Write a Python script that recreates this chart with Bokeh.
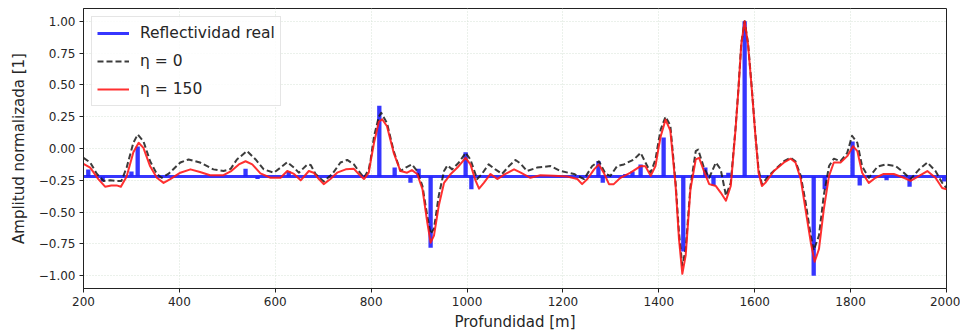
from bokeh.plotting import figure
from bokeh.models import Range1d, FixedTicker, CustomJSTickFormatter, Legend, LegendItem
from bokeh.embed import file_html
from bokeh.resources import INLINE

# ---------------- data ----------------
x_ticks = [200, 400, 600, 800, 1000, 1200, 1400, 1600, 1800, 2000]
y_ticks = [-1.0, -0.75, -0.5, -0.25, 0.0, 0.25, 0.5, 0.75, 1.0]

# true reflectivity: baseline level and spikes
refl_base = -0.22
refl_line_x = [200, 2000]
refl_line_y = [refl_base, refl_base]
spike_depth = [210, 240, 300, 313, 538, 563, 628, 817, 849, 882, 899, 924, 997, 1009,
               1274, 1283, 1330, 1345, 1362, 1410, 1451, 1497, 1514, 1545, 1579, 1723,
               1746, 1804, 1819, 1875, 1923, 1995]
spike_value = [-0.165, -0.26, -0.18, 0.016, -0.16, -0.24, -0.18, 0.336, -0.15, -0.27, -0.16,
               -0.78, -0.03, -0.32, -0.10, -0.27, -0.20, -0.18, -0.125, 0.086, -0.81, -0.15,
               -0.29, -0.19, 1.00, -1.00, -0.32, 0.055, -0.29, -0.25, -0.30, -0.26]

# eta = 0 (dashed black)
eta0_x = [200, 214, 228, 242, 256, 269, 279, 290, 304, 313, 325, 339, 353, 363, 377, 402, 419,
          443, 471, 492, 507, 520, 541, 559, 576, 597, 611, 625, 639, 649, 667, 674, 684, 701,
          719, 736, 750, 764, 774, 785, 795, 799, 806, 816, 821, 833, 847, 861, 872, 885, 896,
          907, 917, 924, 931, 941, 952, 959, 969, 983, 997, 1007, 1021, 1031, 1045, 1059, 1073,
          1087, 1101, 1112, 1125, 1146, 1174, 1195, 1223, 1244, 1261, 1275, 1289, 1299, 1313,
          1327, 1348, 1362, 1372, 1383, 1393, 1400, 1404, 1414, 1424, 1435, 1442, 1449, 1456,
          1466, 1477, 1482, 1494, 1505, 1519, 1529, 1540, 1550, 1560, 1566, 1572, 1579, 1586,
          1594, 1601, 1608, 1615, 1629, 1647, 1661, 1675, 1685, 1696, 1706, 1717, 1723, 1734,
          1744, 1755, 1765, 1779, 1793, 1803, 1814, 1824, 1838, 1856, 1873, 1894, 1911, 1925,
          1943, 1960, 1977, 1991, 2000]
eta0_y = [-0.073, -0.11, -0.20, -0.255, -0.25, -0.255, -0.255, -0.15, 0.045, 0.11, 0.057, -0.10,
          -0.20, -0.23, -0.20, -0.11, -0.086, -0.11, -0.164, -0.177, -0.16, -0.086, -0.02, -0.086,
          -0.164, -0.19, -0.15, -0.107, -0.15, -0.19, -0.125, -0.13, -0.20, -0.26, -0.20, -0.11,
          -0.09, -0.125, -0.177, -0.23, -0.164, -0.086, 0.096, 0.25, 0.28, 0.20, -0.02, -0.177,
          -0.15, -0.125, -0.177, -0.295, -0.53, -0.67, -0.63, -0.37, -0.177, -0.133, -0.164,
          -0.11, -0.034, -0.086, -0.24, -0.20, -0.125, -0.164, -0.20, -0.14, -0.09, -0.12,
          -0.177, -0.15, -0.138, -0.177, -0.20, -0.24, -0.138, -0.10, -0.20, -0.215, -0.138,
          -0.125, -0.086, -0.034, -0.11, -0.19, -0.086, 0.07, 0.15, 0.25, 0.18, -0.27, -0.66,
          -0.92, -0.79, -0.295, -0.02, -0.008, -0.15, -0.23, -0.11, -0.164, -0.37, -0.27, 0.16,
          0.47, 0.83, 1.0, 0.83, 0.47, 0.13, -0.164, -0.28, -0.215, -0.15, -0.10, -0.073, -0.10,
          -0.215, -0.42, -0.685, -0.80, -0.685, -0.37, -0.138, -0.08, -0.10, -0.034, 0.10,
          0.045, -0.14, -0.23, -0.143, -0.125, -0.138, -0.19, -0.24, -0.164, -0.11, -0.177,
          -0.27, -0.31]

# eta = 150 (red)
eta150_x = [200, 214, 231, 245, 258, 269, 278, 290, 304, 315, 325, 339, 353, 367, 381, 402, 423,
            443, 464, 492, 507, 524, 538, 552, 569, 590, 611, 625, 639, 653, 670, 680, 691, 701,
            715, 729, 747, 764, 774, 785, 795, 799, 806, 816, 823, 833, 847, 861, 875, 885, 896,
            907, 917, 924, 931, 941, 952, 966, 980, 997, 1007, 1018, 1025, 1035, 1049, 1063, 1080,
            1098, 1112, 1132, 1153, 1181, 1209, 1230, 1240, 1251, 1265, 1275, 1285, 1296, 1306,
            1320, 1341, 1362, 1372, 1383, 1393, 1400, 1404, 1414, 1424, 1435, 1442, 1449, 1456,
            1466, 1477, 1484, 1494, 1505, 1519, 1529, 1540, 1550, 1560, 1566, 1572, 1579, 1586,
            1594, 1601, 1608, 1615, 1622, 1640, 1661, 1675, 1685, 1696, 1706, 1717, 1725, 1734,
            1744, 1755, 1765, 1779, 1793, 1805, 1814, 1824, 1838, 1852, 1869, 1890, 1911, 1925,
            1943, 1960, 1977, 1991, 2000]
eta150_y = [-0.12, -0.15, -0.24, -0.30, -0.29, -0.29, -0.30, -0.22, -0.03, 0.045, 0.005, -0.14,
            -0.23, -0.27, -0.24, -0.19, -0.164, -0.185, -0.21, -0.21, -0.18, -0.125, -0.10, -0.125,
            -0.195, -0.23, -0.23, -0.177, -0.20, -0.25, -0.177, -0.19, -0.24, -0.28, -0.24, -0.19,
            -0.164, -0.16, -0.20, -0.24, -0.19, -0.10, 0.045, 0.21, 0.23, 0.175, -0.034, -0.177,
            -0.19, -0.17, -0.20, -0.32, -0.58, -0.74, -0.685, -0.45, -0.27, -0.20, -0.15, -0.073,
            -0.125, -0.255, -0.315, -0.27, -0.20, -0.24, -0.20, -0.164, -0.19, -0.23, -0.21,
            -0.215, -0.22, -0.24, -0.28, -0.24, -0.164, -0.125, -0.19, -0.28, -0.28, -0.23, -0.19,
            -0.138, -0.14, -0.215, -0.138, 0.018, 0.096, 0.227, 0.14, -0.295, -0.71, -0.985,
            -0.84, -0.32, -0.086, -0.073, -0.177, -0.28, -0.295, -0.346, -0.41, -0.295, 0.15,
            0.46, 0.82, 1.0, 0.82, 0.46, 0.12, -0.19, -0.295, -0.27, -0.177, -0.11, -0.08, -0.11,
            -0.24, -0.48, -0.74, -0.89, -0.79, -0.48, -0.215, -0.11, -0.11, -0.06, 0.018, -0.02,
            -0.19, -0.27, -0.23, -0.20, -0.20, -0.23, -0.255, -0.215, -0.177, -0.23, -0.31, -0.32]

# ---------------- figure ----------------
p = figure(width=960, height=333, output_backend="svg", toolbar_location=None,
           x_range=Range1d(200, 2000), y_range=Range1d(-1.1, 1.1),
           min_border_left=83, min_border_right=14, min_border_top=8, min_border_bottom=43)

p.background_fill_color = "white"
p.border_fill_color = "white"
p.outline_line_color = "#222222"
p.outline_line_width = 1

# grid
for g in (p.xgrid, p.ygrid):
    g.grid_line_color = "#d6e3d6"
    g.grid_line_dash = "1 2"
    g.grid_line_width = 1
p.xgrid.ticker = FixedTicker(ticks=x_ticks)
p.ygrid.ticker = FixedTicker(ticks=y_ticks)

# axes
p.xaxis.ticker = FixedTicker(ticks=x_ticks)
p.yaxis.ticker = FixedTicker(ticks=y_ticks)
p.yaxis.formatter = CustomJSTickFormatter(
    code="return (tick < 0 ? '\u2212' : '') + Math.abs(tick).toFixed(2);")
for ax in (p.xaxis, p.yaxis):
    ax.axis_line_color = "#222222"
    ax.major_tick_line_color = "#222222"
    ax.major_tick_out = 4
    ax.major_tick_in = 0
    ax.minor_tick_out = 0
    ax.minor_tick_in = 0
    ax.major_label_text_font = "DejaVu Sans"
    ax.major_label_text_font_size = "12px"
    ax.major_label_text_color = "#262626"
    ax.axis_label_text_font = "DejaVu Sans"
    ax.axis_label_text_font_size = "15px"
    ax.axis_label_text_font_style = "normal"
    ax.axis_label_text_color = "#262626"
    ax.major_label_standoff = 4
p.xaxis.axis_label = "Profundidad [m]"
p.yaxis.axis_label = "Amplitud normalizada [1]"
p.xaxis.axis_label_standoff = 4
p.yaxis.axis_label_standoff = 8

# reflectivity
blue = "#2020ff"
p.vbar(x=spike_depth, width=9, top=spike_value, bottom=refl_base,
       fill_color=blue, line_color=None, fill_alpha=0.9)
r_blue = p.line(refl_line_x, refl_line_y, line_color=blue, line_width=3, line_alpha=0.9)

r_black = p.line(eta0_x, eta0_y, line_color="#1a1a1a", line_width=2, line_dash="6 3",
                 line_alpha=0.85, line_join="round")
r_red = p.line(eta150_x, eta150_y, line_color="#ff1a1a", line_width=2, line_alpha=0.9,
               line_join="round")

legend = Legend(items=[LegendItem(label="Reflectividad real", renderers=[r_blue]),
                       LegendItem(label="\u03b7 = 0", renderers=[r_black]),
                       LegendItem(label="\u03b7 = 150", renderers=[r_red])],
                location="top_left")
legend.label_text_font = "DejaVu Sans"
legend.label_text_font_size = "15.5px"
legend.label_text_color = "#262626"
legend.glyph_width = 32
legend.glyph_height = 22
legend.label_height = 22
legend.label_standoff = 11
legend.spacing = 6
legend.padding = 5
legend.margin = 8
legend.border_line_color = "#cccccc"
legend.border_line_width = 1
legend.background_fill_alpha = 0.85
p.add_layout(legend)

open("out.html", "w").write(file_html(p, INLINE))
